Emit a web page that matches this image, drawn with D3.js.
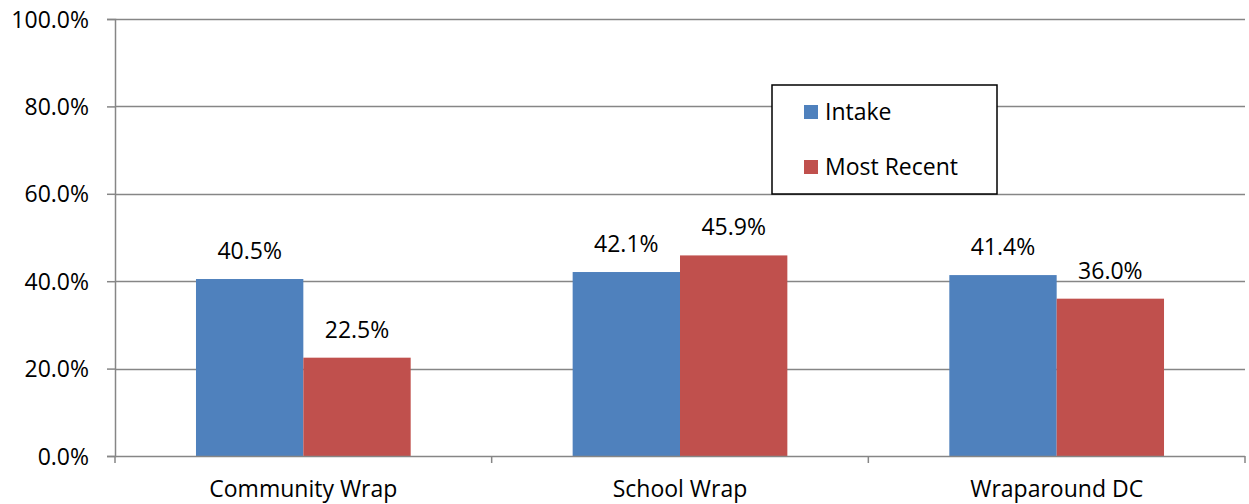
<!DOCTYPE html>
<html>
<head>
<meta charset="utf-8">
<script src="https://cdn.jsdelivr.net/npm/d3@7"></script>
<style>
  body { margin: 0; background: #fff; }
  text { font-family: "Open Sans", sans-serif; fill: #000; }
</style>
</head>
<body>
<div id="chart"></div>
<script>
// chart data
const categories = ['Community Wrap', 'School Wrap', 'Wraparound DC'];
const seriesNames = ['Intake', 'Most Recent'];
const intake = [0.405, 0.421, 0.414];
const mostRecent = [0.225, 0.459, 0.360];
const yTicks = [0, 0.2, 0.4, 0.6, 0.8, 1.0];
const colors = ['#4F81BD', '#C0504D'];

const width = 1249;
const height = 504;
const margin = {t:19, r:4, b:48, l:115};
const w = width - (margin.l + margin.r);
const h = height - (margin.t + margin.b);
const fontSize = '23px';

const svg = d3.select('#chart').append('svg')
    .attr('width', width)
    .attr('height', height);

const plot = svg.append('g')
    .attr('transform', `translate(${margin.l},${margin.t})`);

// scales
const x0 = d3.scaleBand()
    .domain(categories)
    .range([0, w])
    .paddingInner(0.43)
    .paddingOuter(0.215);

const x1 = d3.scaleBand()
    .domain(seriesNames)
    .range([0, x0.bandwidth()]);

const y = d3.scaleLinear()
    .domain([0, 1])
    .range([h, 0]);

// gridlines
plot.append('g')
    .selectAll('line')
    .data(yTicks.filter(d => d > 0))
    .enter()
    .append('line')
    .attr('x1', 0)
    .attr('x2', w)
    .attr('y1', d => Math.round(y(d)) + 0.5)
    .attr('y2', d => Math.round(y(d)) + 0.5)
    .attr('stroke', '#868686')
    .attr('stroke-width', 1.5);

// y axis
const yAxis = plot.append('g')
    .call(d3.axisLeft(y).tickValues(yTicks).tickFormat(d3.format('.1%')).tickSize(8).tickPadding(18));
yAxis.select('.domain').attr('stroke', '#868686').attr('stroke-width', 1.5);
yAxis.selectAll('.tick line').attr('stroke', '#868686').attr('stroke-width', 1.5);
yAxis.selectAll('.tick text')
    .attr('dy', '0.35em')
    .style('font-family', '"Open Sans", sans-serif')
    .style('font-size', fontSize)
    .attr('fill', '#000');

// bars
const rows = categories.map((c, i) => ({cat: c, values: [intake[i], mostRecent[i]]}));

const groups = plot.selectAll('.cat')
    .data(rows)
    .enter()
    .append('g')
    .classed('cat', true)
    .attr('transform', d => `translate(${x0(d.cat)},0)`);

groups.selectAll('rect')
    .data(d => d.values.map((v, j) => ({name: seriesNames[j], v: v, j: j})))
    .enter()
    .append('rect')
    .attr('x', d => x1(d.name))
    .attr('width', x1.bandwidth())
    .attr('y', d => y(d.v))
    .attr('height', d => h - y(d.v))
    .attr('fill', d => colors[d.j]);

groups.selectAll('.label')
    .data(d => d.values.map((v, j) => ({name: seriesNames[j], v: v})))
    .enter()
    .append('text')
    .classed('label', true)
    .attr('x', d => x1(d.name) + x1.bandwidth() / 2)
    .attr('y', d => y(d.v) - 20)
    .attr('text-anchor', 'middle')
    .style('font-size', fontSize)
    .text(d => d3.format('.1%')(d.v));

// x axis
const xAxis = plot.append('g')
    .attr('transform', `translate(0,${h})`);
xAxis.append('line')
    .attr('x1', 0).attr('x2', w)
    .attr('y1', 0.5).attr('y2', 0.5)
    .attr('stroke', '#868686')
    .attr('stroke-width', 1.5);
const bounds = [0].concat(categories.map(c => x0(c) + x0.bandwidth() + x0.step() * x0.paddingInner() / 2));
bounds[bounds.length - 1] = w;
xAxis.selectAll('.xtick')
    .data(bounds)
    .enter()
    .append('line')
    .attr('x1', d => d).attr('x2', d => d)
    .attr('y1', 0).attr('y2', 7)
    .attr('stroke', '#868686')
    .attr('stroke-width', 1.5);
xAxis.selectAll('.xlabel')
    .data(categories)
    .enter()
    .append('text')
    .attr('x', d => x0(d) + x0.bandwidth() / 2)
    .attr('y', 41)
    .attr('text-anchor', 'middle')
    .style('font-size', fontSize)
    .text(d => d);

// legend
const legend = svg.append('g')
    .attr('transform', 'translate(772,85)');
legend.append('rect')
    .attr('width', 225)
    .attr('height', 109)
    .attr('fill', '#fff')
    .attr('stroke', '#000')
    .attr('stroke-width', 1.5);
const items = legend.selectAll('.item')
    .data(seriesNames)
    .enter()
    .append('g')
    .attr('transform', (d, i) => `translate(32,${20 + i * 55})`);
items.append('rect')
    .attr('width', 14)
    .attr('height', 14)
    .attr('fill', (d, i) => colors[i]);
items.append('text')
    .attr('x', 21)
    .attr('y', 15)
    .style('font-size', fontSize)
    .text(d => d);
</script>
</body>
</html>
